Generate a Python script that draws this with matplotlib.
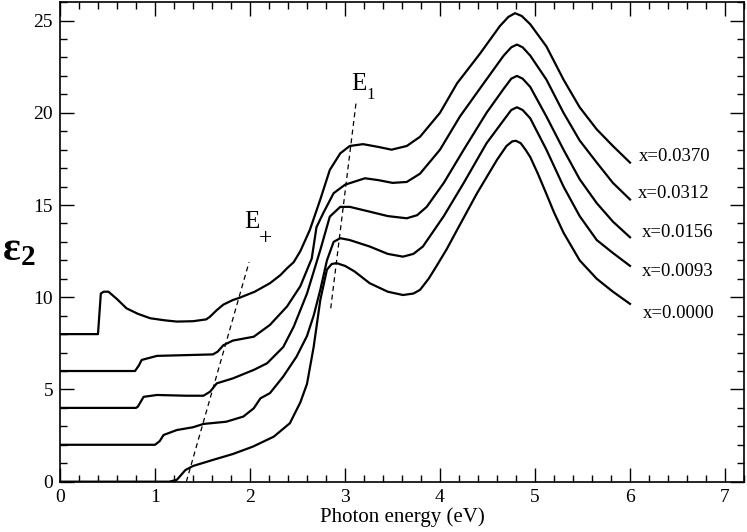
import matplotlib
matplotlib.use("Agg")
import matplotlib.pyplot as plt
from matplotlib.ticker import MultipleLocator

plt.rcParams['font.family'] = ['Liberation Serif', 'DejaVu Serif']
plt.rcParams['mathtext.fontset'] = 'custom'
plt.rcParams['mathtext.rm'] = 'Liberation Serif'
plt.rcParams['mathtext.it'] = 'Liberation Serif:italic'
plt.rcParams['mathtext.bf'] = 'Liberation Serif:bold'

# x = 0.0000
e0 = [0, 1.15, 1.23, 1.32, 1.40, 1.61, 1.82, 2.03, 2.25, 2.42, 2.53, 2.6, 2.67, 2.74, 2.81, 2.86,
      2.91, 3.0, 3.1, 3.26, 3.45, 3.61, 3.72, 3.79, 3.88, 3.96, 4.07, 4.18, 4.39, 4.6, 4.7, 4.76,
      4.8, 4.85, 4.9, 4.95, 5.03, 5.12, 5.2, 5.3, 5.47, 5.65, 5.82, 6.0]
s0 = [0, 0, 0.1, 0.63, 0.85, 1.18, 1.5, 1.9, 2.44, 3.17, 4.3, 5.3, 7.3, 9.85, 11.5, 11.8,
      11.85, 11.7, 11.4, 10.76, 10.3, 10.12, 10.2, 10.4, 11.0, 11.66, 12.6, 13.65, 15.64, 17.45, 18.2, 18.45,
      18.48, 18.35, 18.0, 17.6, 16.7, 15.6, 14.6, 13.5, 12.0, 11.0, 10.3, 9.64]

# x = 0.0093
e1 = [0, 1.0, 1.05, 1.09, 1.23, 1.40, 1.51, 1.75, 1.93, 2.04, 2.11, 2.21, 2.35, 2.49, 2.6, 2.67,
      2.74, 2.81, 2.88, 2.95, 3.05, 3.26, 3.45, 3.61, 3.72, 3.82, 3.92, 4.04, 4.25, 4.49, 4.67, 4.75,
      4.81, 4.87, 4.95, 5.12, 5.3, 5.47, 5.65, 5.82, 6.0]
s1 = [2, 2, 2.2, 2.53, 2.8, 2.95, 3.13, 3.25, 3.53, 3.98, 4.52, 4.8, 5.7, 6.78, 7.9, 9.0,
      10.4, 12.0, 13.0, 13.2, 13.1, 12.75, 12.35, 12.2, 12.35, 12.75, 13.5, 14.4, 16.2, 18.35, 19.6, 20.15,
      20.3, 20.15, 19.7, 18.0, 16.0, 14.4, 13.1, 12.4, 11.7]

# x = 0.0156
e2 = [0, 0.8, 0.82, 0.88, 1.02, 1.33, 1.51, 1.58, 1.65, 1.82, 2.04, 2.18, 2.35, 2.46, 2.6, 2.74,
      2.84, 2.95, 3.05, 3.26, 3.45, 3.65, 3.76, 3.86, 4.04, 4.25, 4.49, 4.67, 4.75, 4.81, 4.87, 4.95,
      5.12, 5.3, 5.47, 5.65, 5.82, 6.0]
s2 = [4, 4, 4.07, 4.6, 4.7, 4.66, 4.66, 4.88, 5.33, 5.6, 6.06, 6.42, 7.3, 8.4, 10.2, 12.56,
      14.37, 14.9, 14.9, 14.64, 14.4, 14.28, 14.45, 14.9, 16.2, 18.0, 20.0, 21.3, 21.85, 22.0, 21.85, 21.4,
      19.8, 18.0, 16.4, 15.1, 14.1, 13.25]

# x = 0.0312
e3 = [0, 0.79, 0.83, 0.86, 1.02, 1.61, 1.66, 1.72, 1.82, 2.04, 2.21, 2.39, 2.53, 2.65, 2.7, 2.77,
      2.88, 3.0, 3.21, 3.35, 3.5, 3.65, 3.79, 4.0, 4.21, 4.46, 4.67, 4.75, 4.81, 4.87, 4.95, 5.12,
      5.3, 5.47, 5.65, 5.82, 6.0]
s3 = [6, 6, 6.3, 6.6, 6.82, 6.9, 7.05, 7.4, 7.65, 7.86, 8.5, 9.5, 10.6, 12.1, 13.8, 14.55,
      15.64, 16.1, 16.45, 16.35, 16.2, 16.25, 16.7, 18.0, 19.8, 21.6, 23.1, 23.55, 23.7, 23.55, 23.1, 21.8,
      20.0, 18.5, 17.3, 16.2, 15.3]

# x = 0.0370
e4 = [0, 0.40, 0.43, 0.46, 0.51, 0.60, 0.70, 0.82, 0.95, 1.1, 1.23, 1.4, 1.54, 1.58, 1.65, 1.72,
      1.82, 1.89, 2.05, 2.21, 2.32, 2.39, 2.46, 2.53, 2.63, 2.74, 2.84, 2.95, 3.05, 3.19, 3.35, 3.49,
      3.65, 3.79, 4.0, 4.18, 4.42, 4.63, 4.72, 4.79, 4.86, 4.95, 5.12, 5.3, 5.47, 5.65, 5.82, 6.0]
s4 = [8, 8, 10.2, 10.3, 10.3, 9.9, 9.4, 9.1, 8.86, 8.75, 8.68, 8.7, 8.8, 8.95, 9.3, 9.6,
      9.85, 9.97, 10.3, 10.76, 11.2, 11.57, 11.9, 12.5, 13.65, 15.3, 16.9, 17.8, 18.2, 18.3, 18.15, 18.0,
      18.2, 18.7, 20.0, 21.6, 23.2, 24.7, 25.2, 25.4, 25.25, 24.8, 23.6, 21.8, 20.3, 19.1, 18.2, 17.3]

curves = [(e0, s0), (e1, s1), (e2, s2), (e3, s3), (e4, s4)]
labels = ['x=0.0000', 'x=0.0093', 'x=0.0156', 'x=0.0312', 'x=0.0370']
label_x = [6.14, 6.12, 6.12, 6.08, 6.09]
label_y = [9.1, 11.4, 13.5, 15.6, 17.65]

# guide lines for the transitions
eplus_x = [1.33, 1.99]
eplus_y = [0.0, 11.9]
e1_x = [2.85, 3.12]
e1_y = [9.4, 20.7]

fig = plt.figure(figsize=(7.47, 5.32), dpi=100)
ax = fig.add_axes([0.0803, 0.0946, 0.9157, 0.9014])

for (e, s) in curves:
    ax.plot(e, s, color='black', lw=1.6)

for lab, lx, ly in zip(labels, label_x, label_y):
    ax.text(lx, ly, lab, fontsize=13.5, va='center', ha='left')

ax.plot(eplus_x, eplus_y, '--', color='black', lw=0.9, dashes=(4, 3))
ax.plot(e1_x, e1_y, '--', color='black', lw=0.9, dashes=(4, 3))

# E+ : letter plus a lowered "+"
ax.text(1.937, 14.08, 'E', fontsize=18, va='center', ha='left')
ax.text(2.09, 13.2, '+', fontsize=17, va='center', ha='left')
ax.text(3.07, 21.57, 'E', fontsize=18, va='center', ha='left')
ax.text(3.225, 20.95, '1', fontsize=12, va='center', ha='left')

ax.set_xlim(0, 7.2)
ax.set_ylim(0, 26)
ax.xaxis.set_major_locator(MultipleLocator(1))
ax.xaxis.set_minor_locator(MultipleLocator(0.2))
ax.yaxis.set_major_locator(MultipleLocator(5))
ax.yaxis.set_minor_locator(MultipleLocator(1))
ax.tick_params(which='both', direction='in', top=True, right=True, labelsize=14, width=1.0)
ax.tick_params(which='major', length=10, pad=5)
ax.tick_params(which='minor', length=5)
for sp in ax.spines.values():
    sp.set_linewidth(1.2)

ax.set_xlabel('Photon energy (eV)', fontsize=15, labelpad=1)
ax.set_ylabel(r'$\mathbf{ε_2}$', fontsize=30, rotation=0, va='center', ha='left')
ax.yaxis.set_label_coords(-0.085, 0.484)

plt.savefig('out.png', dpi=100)
plt.close()
